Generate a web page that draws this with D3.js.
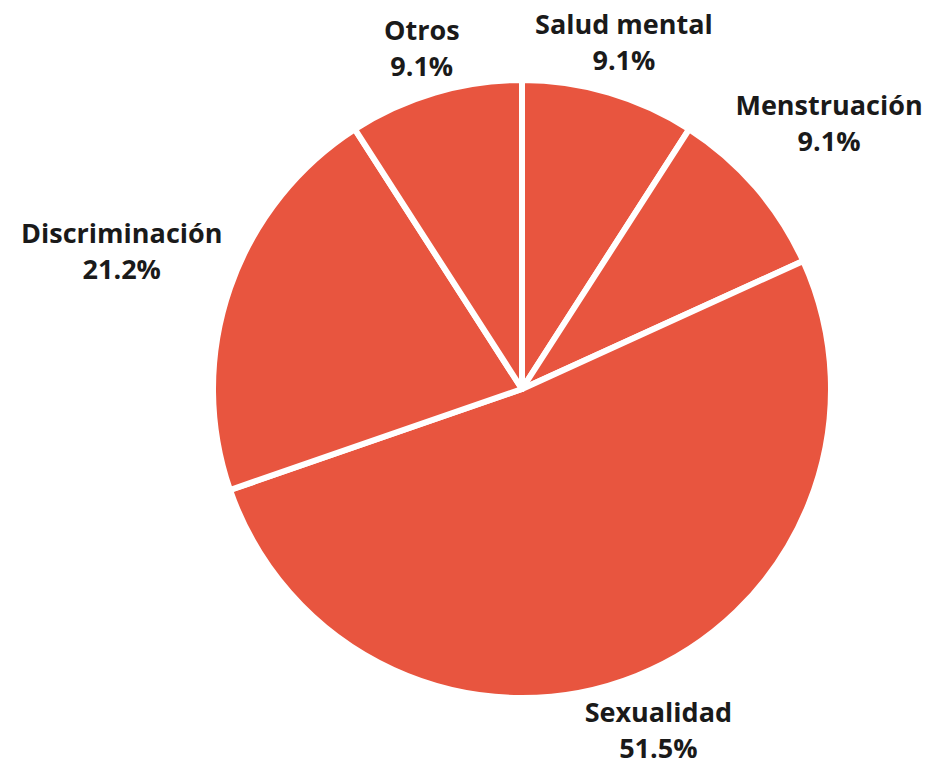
<!DOCTYPE html>
<html>
<head>
<meta charset="utf-8">
<script src="https://cdn.jsdelivr.net/npm/d3@7"></script>
<style>
  html, body { margin: 0; padding: 0; background: #ffffff; }
  svg { display: block; }
</style>
</head>
<body>
<svg id="chart" width="930" height="765"></svg>
<script>
// ---- data ----
const categories = ["Salud mental", "Menstruación", "Sexualidad", "Discriminación", "Otros"];
const values = [9.1, 9.1, 51.5, 21.2, 9.1];
const valueLabels = ["9.1%", "9.1%", "51.5%", "21.2%", "9.1%"];

// ---- layout ----
const W = 930, H = 765;
const cx = 522, cy = 389, R = 309;
const fill = "#E8553F";
const fontFamily = "'Open Sans', 'Noto Sans', sans-serif";
const fontSize = 27;
const lineGap = 36;
const capH = 20;
const labelDist = 319;

const svg = d3.select("#chart");
const g = svg.append("g").attr("transform", `translate(${cx},${cy})`);

const data = categories.map((c, i) => ({ name: c, value: values[i], label: valueLabels[i] }));
const pie = d3.pie().value(d => d.value).sort(null).startAngle(0).endAngle(2 * Math.PI);
const arcs = pie(data);
const arc = d3.arc().innerRadius(0).outerRadius(R);

g.selectAll("path.slice")
  .data(arcs)
  .join("path")
  .attr("class", "slice")
  .attr("d", arc)
  .attr("fill", fill)
  .attr("stroke", "#ffffff")
  .attr("stroke-width", 6)
  .attr("stroke-linejoin", "round");

// labels: place box along mid-angle ray so that its nearest point is at labelDist
const labels = g.selectAll("g.lbl")
  .data(arcs)
  .join("g")
  .attr("class", "lbl");

labels.append("text")
  .attr("class", "l1")
  .attr("text-anchor", "middle")
  .style("font-family", fontFamily)
  .style("font-weight", 700)
  .style("font-size", fontSize + "px")
  .attr("fill", "#1a1a1a")
  .text(d => d.data.name);
labels.append("text")
  .attr("class", "l2")
  .attr("text-anchor", "middle")
  .style("font-family", fontFamily)
  .style("font-weight", 700)
  .style("font-size", fontSize + "px")
  .attr("fill", "#1a1a1a")
  .text(d => d.data.label);

labels.each(function(d) {
  const sel = d3.select(this);
  const w1 = sel.select(".l1").node().getComputedTextLength();
  const w2 = sel.select(".l2").node().getComputedTextLength();
  const w = Math.max(w1, w2);
  const h = lineGap + capH;
  const mid = (d.startAngle + d.endAngle) / 2;
  const dx = Math.sin(mid), dy = -Math.cos(mid);
  let t = 0;
  for (t = 0; t < 800; t += 0.5) {
    const bx = dx * t, by = dy * t;
    const nx = Math.max(bx - w / 2, Math.min(0, bx + w / 2));
    const ny = Math.max(by - h / 2, Math.min(0, by + h / 2));
    if (Math.hypot(nx, ny) >= labelDist) break;
  }
  const x = dx * t, y = dy * t;
  sel.select(".l1").attr("x", x).attr("y", y - h / 2 + capH);
  sel.select(".l2").attr("x", x).attr("y", y + h / 2);
});
</script>
</body>
</html>
